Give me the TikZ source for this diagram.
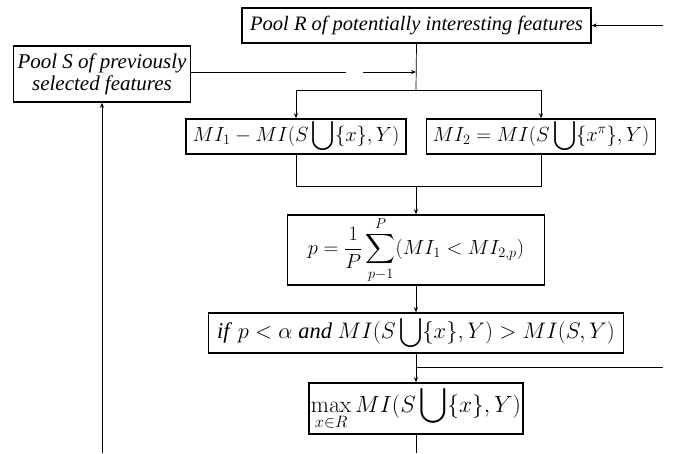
\RequirePackage{fix-cm}
\documentclass[tikz,border=0pt]{standalone}
\usepackage[no-math]{fontspec}
\setmainfont{Liberation Serif}
\usepackage{amsmath}
\usetikzlibrary{arrows.meta, positioning, calc}

\begin{document}
\begin{tikzpicture}[
    x=1pt, y=-1pt,
    box/.style = {rectangle, draw=black, line width=1.5pt, inner sep=0pt, font=\fontsize{#1pt}{#1pt}\selectfont},
    box/.default = 20,
    textbox/.style = {box, align=center, font=\fontsize{#1pt}{22pt}\selectfont\itshape},
    textbox/.default = 20,
    arrow/.style = {->, >={Stealth[length=5pt, width=4pt]}, line width=0.7pt},
    wire/.style = {line width=0.7pt}
]
\useasboundingbox (0,0) rectangle (677,453);

% Pools
\node[textbox=20.5, minimum width=349pt, minimum height=35pt] (poolR) at (416.5,25.5) {Pool R of potentially interesting features};
\node[textbox=21, minimum width=177pt, minimum height=56pt] (poolS) at (102,74) {Pool S of previously\\selected features};

% Mutual information of x and of its permutation
\node[box=20.5, minimum width=220pt, minimum height=35pt] (mione) at (296,136.5) {$\displaystyle MI_1-MI(S\bigcup\{x\},Y)$};
\node[box=20.5, minimum width=229pt, minimum height=35pt] (mitwo) at (541,136.5) {$\displaystyle MI_2=MI(S\bigcup\{x^{\pi}\},Y)$};

% Test and selection
\node[box=20.5, minimum width=257pt, minimum height=70pt] (pval) at (416,250) {$\displaystyle p=\frac{1}{P}\sum_{p-1}^{P}(MI_1<MI_{2,p})$};
\node[box=22.5, minimum width=415pt, minimum height=40pt] (test) at (416,333) {\textit{if} $p<\alpha$ \textit{and} $\displaystyle MI(S\bigcup\{x\},Y)>MI(S,Y)$};
\node[box=23.5, minimum width=214pt, minimum height=51pt] (best) at (416,408.5) {$\displaystyle \max_{x\in R}MI(S\bigcup\{x\},Y)$};

% Junctions
\coordinate (rin) at (663,25.5);
\coordinate (split) at (416,90);
\coordinate (gapL) at (346,72);
\coordinate (gapR) at (363,72);
\coordinate (sjoin) at (416,72);
\coordinate (merge) at (416,186);
\coordinate (tap) at (416,367);
\coordinate (rout) at (663,367);
\coordinate (bottom) at (416,453);
\coordinate (loop) at (102,453);

% Edges
\draw[arrow] (rin) -- (poolR.east);
\draw[wire] (poolR.south) -- (split);
\draw[wire] (poolS.east |- gapL) -- (gapL);
\draw[arrow] (gapR) -- (sjoin);

\draw[arrow] (split) -| (mione.north);
\draw[arrow] (split) -| (mitwo.north);

\draw[wire] (mione.south) |- (merge);
\draw[wire] (mitwo.south) |- (merge);
\draw[arrow] (merge) -- (pval.north);

\draw[arrow] (pval) -- (test);
\draw[arrow] (test) -- (best);
\draw[wire] (tap) -- (rout);
\draw[wire] (best.south) -- (bottom);

\draw[arrow] (loop) -- (poolS.south);

\end{tikzpicture}
\end{document}
